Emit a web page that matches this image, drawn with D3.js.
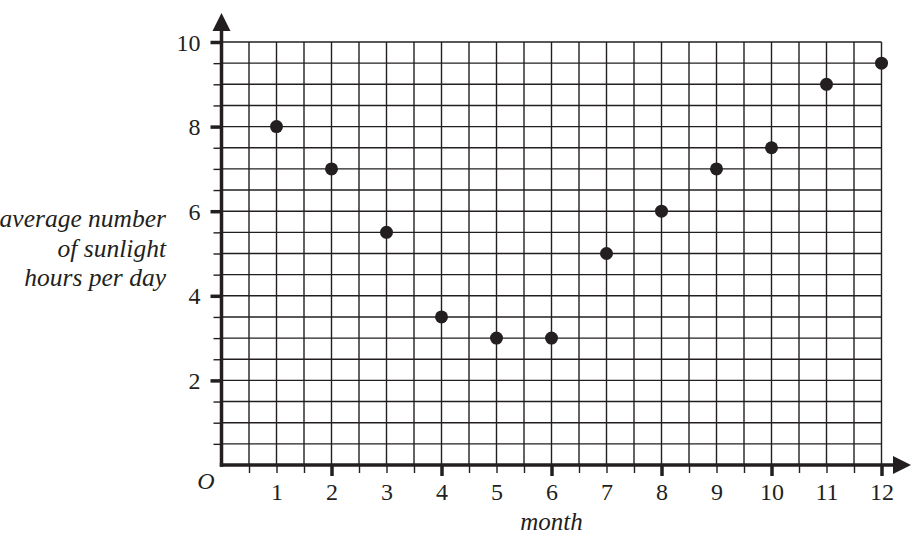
<!DOCTYPE html>
<html>
<head>
<meta charset="utf-8">
<script src="https://cdn.jsdelivr.net/npm/d3@7"></script>
<style>
  body { margin: 0; background: #fff; }
  svg text { font-family: "Liberation Serif", "Times New Roman", serif; fill: #231f20; }
</style>
</head>
<body>
<div id="chart"></div>
<script>
// data
var months = [1, 2, 3, 4, 5, 6, 7, 8, 9, 10, 11, 12];
var hours = [8, 7, 5.5, 3.5, 3, 3, 5, 6, 7, 7.5, 9, 9.5];
var xTickLabels = [1, 2, 3, 4, 5, 6, 7, 8, 9, 10, 11, 12];
var yTickLabels = [2, 4, 6, 8, 10];
var yLabelLines = ["average number", "of sunlight", "hours per day"];

var svgWidth = 915, svgHeight = 540;
var ink = "#231f20";

var svg = d3.select("#chart")
  .append("svg")
  .attr("width", svgWidth)
  .attr("height", svgHeight);

var x = d3.scaleLinear().domain([0, 12]).range([221.5, 881.5]);
var y = d3.scaleLinear().domain([0, 10]).range([465, 42]);

var halfX = d3.range(1, 25).map(d => d / 2);
var halfY = d3.range(1, 21).map(d => d / 2);

// grid
var grid = svg.append("g");
grid.selectAll(".vline")
  .data(halfX)
  .enter()
  .append("line")
  .attr("x1", d => x(d)).attr("x2", d => x(d))
  .attr("y1", y(0)).attr("y2", y(10))
  .attr("stroke", ink).attr("stroke-width", 1.4);
grid.selectAll(".hline")
  .data(halfY)
  .enter()
  .append("line")
  .attr("x1", x(0)).attr("x2", x(12))
  .attr("y1", d => y(d)).attr("y2", d => y(d))
  .attr("stroke", ink).attr("stroke-width", 1.4);

// x axis ticks
var xAxis = d3.axisBottom(x)
  .tickValues(halfX)
  .tickSize(8)
  .tickFormat(d => xTickLabels.indexOf(d) >= 0 ? d : "");

var gx = svg.append("g")
  .attr("transform", `translate(0, ${y(0)})`)
  .call(xAxis)
  .attr("font-family", null);
gx.select(".domain").remove();
gx.selectAll(".tick line")
  .attr("stroke", ink)
  .attr("stroke-width", d => (d % 2 === 0) ? 3.5 : 1.4)
  .attr("y2", d => (d % 2 === 0) ? 11 : 8);
gx.selectAll(".tick text")
  .attr("y", 35)
  .attr("dy", 0)
  .attr("font-size", 24)
  .attr("fill", ink);

// y axis ticks
var yAxis = d3.axisLeft(y)
  .tickValues(halfY)
  .tickSize(8)
  .tickFormat(d => yTickLabels.indexOf(d) >= 0 ? d : "");

var gy = svg.append("g")
  .attr("transform", `translate(${x(0)}, 0)`)
  .call(yAxis)
  .attr("font-family", null);
gy.select(".domain").remove();
gy.selectAll(".tick line")
  .attr("stroke", ink)
  .attr("stroke-width", d => (d % 2 === 0) ? 3.5 : 1.4)
  .attr("x2", d => (d % 2 === 0) ? -11 : -8);
gy.selectAll(".tick text")
  .attr("x", -21)
  .attr("dy", "0.34em")
  .attr("font-size", 24)
  .attr("fill", ink);

// axis lines with arrows
svg.append("line")
  .attr("x1", x(0) - 1.7).attr("x2", 896)
  .attr("y1", y(0)).attr("y2", y(0))
  .attr("stroke", ink).attr("stroke-width", 3.5);
svg.append("line")
  .attr("x1", x(0)).attr("x2", x(0))
  .attr("y1", y(0) + 1.7).attr("y2", 28)
  .attr("stroke", ink).attr("stroke-width", 3.5);
svg.append("path")
  .attr("d", `M${x(0)},13 L${x(0) + 9},31 L${x(0) - 9},31 Z`)
  .attr("fill", ink);
svg.append("path")
  .attr("d", `M911,${y(0)} L893,${y(0) - 9} L893,${y(0) + 9} Z`)
  .attr("fill", ink);

// origin
svg.append("text")
  .attr("x", 206).attr("y", 489)
  .attr("text-anchor", "middle")
  .attr("font-size", 24)
  .attr("font-style", "italic")
  .text("O");

// points
svg.selectAll(".dot")
  .data(months)
  .enter()
  .append("circle")
  .attr("cx", (d, i) => x(d))
  .attr("cy", (d, i) => y(hours[i]))
  .attr("r", 6.5)
  .attr("fill", ink);

// axis titles
svg.append("text")
  .attr("x", x(6))
  .attr("y", 530)
  .attr("text-anchor", "middle")
  .attr("font-size", 25)
  .attr("font-style", "italic")
  .text("month");

svg.selectAll(".ylab")
  .data(yLabelLines)
  .enter()
  .append("text")
  .attr("x", 166)
  .attr("y", (d, i) => 227 + i * 29.5)
  .attr("text-anchor", "end")
  .attr("font-size", 25.5)
  .attr("font-style", "italic")
  .text(d => d);
</script>
</body>
</html>
